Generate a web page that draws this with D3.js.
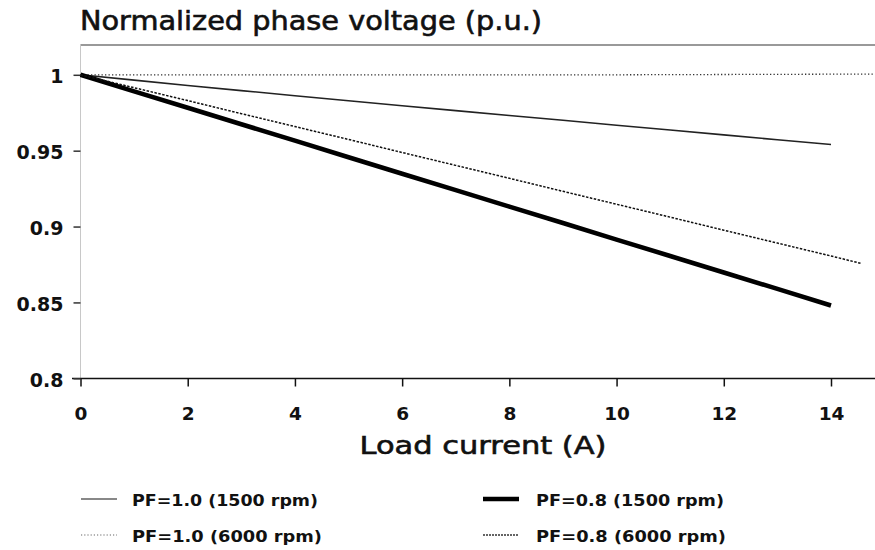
<!DOCTYPE html>
<html>
<head>
<meta charset="utf-8">
<script src="https://cdn.jsdelivr.net/npm/d3@7"></script>
<style>
  html, body { margin: 0; padding: 0; background: #fff; }
  svg { display: block; }
</style>
</head>
<body>
<svg id="chart" width="875" height="550"></svg>
<script>
// Load current (A) sample points
const currentA = [0, 1, 2, 3, 4, 5, 6, 7, 8, 9, 10, 11, 12, 13, 14];
const currentDotted = [0, 2, 4, 6, 8, 10, 12, 14, 14.8];
const currentDashed = [0, 1, 2, 3, 4, 5, 6, 7, 8, 9, 10, 11, 12, 13, 14, 14.55];

// Normalized phase voltage (p.u.) for each operating point
const pf10_1500 = [1.000, 0.9965, 0.9930, 0.9896, 0.9862, 0.9829, 0.9796, 0.9764, 0.9732, 0.9700, 0.9668, 0.9636, 0.9604, 0.9572, 0.9541];
const pf10_6000 = [1.000, 1.000, 1.000, 1.000, 1.000, 1.000, 1.0002, 1.0004, 1.0005];
const pf08_1500 = [1.000, 0.9891, 0.9783, 0.9674, 0.9566, 0.9457, 0.9348, 0.9240, 0.9131, 0.9023, 0.8914, 0.8806, 0.8697, 0.8589, 0.8480];
const pf08_6000 = [1.000, 0.9915, 0.9830, 0.9744, 0.9659, 0.9574, 0.9488, 0.9403, 0.9318, 0.9232, 0.9147, 0.9062, 0.8976, 0.8891, 0.8806, 0.8758];

// Axis ticks
const xTicks = [0, 2, 4, 6, 8, 10, 12, 14];
const yTicks = [0.8, 0.85, 0.9, 0.95, 1];
const yTickLabels = ["0.8", "0.85", "0.9", "0.95", "1"];

// Legend entries
const legendLabels = ["PF=1.0 (1500 rpm)", "PF=1.0 (6000 rpm)", "PF=0.8 (1500 rpm)", "PF=0.8 (6000 rpm)"];

const svg = d3.select("#chart");
const x = d3.scaleLinear().domain([0, 14]).range([80.5, 831]);
const y = d3.scaleLinear().domain([0.8, 1.0]).range([378.3, 74.8]);

const tickFont = "'DejaVu Sans', sans-serif";

// Title
svg.append("text")
  .attr("x", 80).attr("y", 30)
  .attr("font-family", tickFont)
  .attr("font-size", 26)
  .attr("textLength", 462).attr("lengthAdjust", "spacingAndGlyphs")
  .attr("fill", "#111").attr("stroke", "#111").attr("stroke-width", 0.6)
  .text("Normalized phase voltage (p.u.)");

// Frame: top rule and faint left edge
svg.append("line")
  .attr("x1", 80).attr("x2", 875).attr("y1", 45).attr("y2", 45)
  .attr("stroke", "#999").attr("stroke-width", 2);
svg.append("line")
  .attr("x1", 80.5).attr("x2", 80.5).attr("y1", 44).attr("y2", 378)
  .attr("stroke", "#c8c8c8").attr("stroke-width", 1);

// Bottom axis line
svg.append("line")
  .attr("x1", 72).attr("x2", 875).attr("y1", 378.5).attr("y2", 378.5)
  .attr("stroke", "#111").attr("stroke-width", 1.5);

// X axis
const xAxis = svg.append("g")
  .attr("transform", "translate(0,378.5)")
  .call(d3.axisBottom(x).tickValues(xTicks).tickSize(8).tickPadding(20).tickFormat(d3.format("d")));
xAxis.select(".domain").remove();
xAxis.selectAll(".tick line").attr("stroke", "#111").attr("stroke-width", 1.5);
xAxis.selectAll(".tick text")
  .attr("font-family", tickFont).attr("font-weight", "bold").attr("font-size", 18.5).attr("fill", "#111");

// Y axis
const yAxis = svg.append("g")
  .attr("transform", "translate(80.5,0)")
  .call(d3.axisLeft(y).tickValues(yTicks).tickSize(7).tickPadding(10)
    .tickFormat((d, i) => yTickLabels[i]));
yAxis.select(".domain").remove();
yAxis.selectAll(".tick line").attr("stroke", "#333").attr("stroke-width", 1.5);
yAxis.selectAll(".tick text")
  .attr("font-family", tickFont).attr("font-weight", "bold").attr("font-size", 19).attr("fill", "#111")
  .attr("dy", "0.42em");

// X axis title
svg.append("text")
  .attr("x", 483).attr("y", 454)
  .attr("text-anchor", "middle")
  .attr("font-family", tickFont)
  .attr("font-size", 25)
  .attr("textLength", 247).attr("lengthAdjust", "spacingAndGlyphs")
  .attr("fill", "#111").attr("stroke", "#111").attr("stroke-width", 0.6)
  .text("Load current (A)");

// Curves
const line = d3.line().x(d => x(d[0])).y(d => y(d[1]));
const series = [
  { xs: currentA, ys: pf10_1500, stroke: "#222", width: 1.6, dash: null },
  { xs: currentDotted, ys: pf10_6000, stroke: "#333", width: 1.3, dash: "1.3,2.2" },
  { xs: currentA, ys: pf08_1500, stroke: "#000", width: 4.6, dash: null },
  { xs: currentDashed, ys: pf08_6000, stroke: "#111", width: 1.5, dash: "2.5,1.5" }
];
series.forEach(s => {
  svg.append("path")
    .datum(s.xs.map((v, i) => [v, s.ys[i]]))
    .attr("d", line)
    .attr("fill", "none")
    .attr("stroke", s.stroke)
    .attr("stroke-width", s.width)
    .attr("stroke-dasharray", s.dash)
    .attr("stroke-linejoin", "round");
});

// Legend (two columns, two rows)
const legendPos = [
  { lx: 81, tx: 132, y: 499, tw: 186 },
  { lx: 81, tx: 132, y: 535, tw: 190 },
  { lx: 483, tx: 536, y: 499, tw: 188 },
  { lx: 483, tx: 536, y: 535, tw: 190 }
];
const legendStyles = [
  { stroke: "#888", width: 2.2, dash: null },
  { stroke: "#666", width: 1.2, dash: "1.2,2" },
  { stroke: "#000", width: 4.5, dash: null },
  { stroke: "#333", width: 1.3, dash: "2,1" }
];
legendLabels.forEach((lab, i) => {
  const p = legendPos[i], st = legendStyles[i];
  svg.append("line")
    .attr("x1", p.lx).attr("x2", p.lx + 36).attr("y1", p.y).attr("y2", p.y)
    .attr("stroke", st.stroke).attr("stroke-width", st.width)
    .attr("stroke-dasharray", st.dash);
  svg.append("text")
    .attr("x", p.tx).attr("y", p.y + 6.5)
    .attr("font-family", tickFont).attr("font-weight", "bold").attr("font-size", 16.5)
    .attr("textLength", p.tw).attr("lengthAdjust", "spacingAndGlyphs")
    .attr("fill", "#111")
    .text(lab);
});
</script>
</body>
</html>
